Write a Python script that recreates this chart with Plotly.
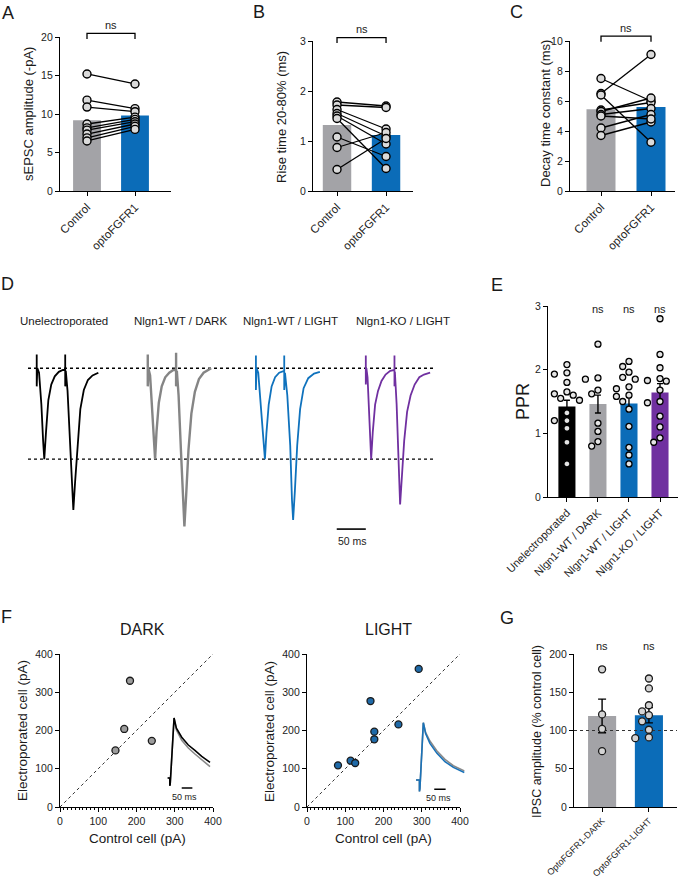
import plotly.graph_objects as go

W, H = 678, 890
FONT = "Liberation Sans, Arial, sans-serif"
GREY = "#a3a3a7"
BLUE = "#0b6cb8"
PURPLE = "#7030a0"

# ---- A-C: paired sEPSC measurements (Control -> optoFGFR1)
groups_ac = ["Control", "optoFGFR1"]
amp_ctrl = [15.2, 11.8, 10.9, 8.7, 8.2, 7.9, 7.4, 6.9, 6.5]
amp_opto = [13.9, 10.7, 10.3, 9.6, 9.3, 9.0, 8.7, 8.4, 8.0]
amp_mean = [9.2, 9.8]
rise_ctrl = [1.78, 1.72, 1.63, 1.55, 1.50, 1.45, 1.08, 0.87, 0.43]
rise_opto = [1.70, 1.67, 1.24, 1.10, 0.94, 0.45, 0.69, 1.17, 1.05]
rise_mean = [1.32, 1.12]
decay_ctrl = [7.5, 6.5, 6.4, 5.4, 5.3, 5.1, 4.2, 3.7, 5.0]
decay_opto = [6.0, 9.1, 3.25, 5.9, 6.2, 5.5, 5.1, 4.6, 4.8]
decay_mean = [5.45, 5.6]

# ---- D: example paired-pulse traces (ms from first stimulus, normalised current)
d_labels = ["Unelectroporated", "Nlgn1-WT / DARK", "Nlgn1-WT / LIGHT", "Nlgn1-KO / LIGHT"]
t_unelec = [0, 0, 0, 1, 4, 8, 11, 13, 16, 20, 25, 31, 38, 45, 49, 49, 49, 50, 53, 57, 61, 63, 66, 70, 75, 81, 88, 96, 106]
i_unelec = [0, 0.15, -0.2, 0, -0.05, -0.4, -0.8, -1.0, -0.7, -0.35, -0.18, -0.09, -0.04, -0.02, -0.02, 0.15, -0.2,
            -0.03, -0.25, -0.75, -1.35, -1.56, -1.25, -0.85, -0.45, -0.24, -0.13, -0.08, -0.05]
t_wt_dark = [0, 0, 0, 1, 4, 8, 11, 12.6, 15, 19, 24, 30, 37, 44, 48.7, 48.7, 48.7, 50, 53, 57, 61, 63, 66, 70, 75, 81, 88, 96, 109]
i_wt_dark = [0, 0.15, -0.2, 0, -0.08, -0.5, -0.88, -1.0, -0.7, -0.38, -0.2, -0.1, -0.05, -0.02, -0.02, 0.17, -0.2,
             -0.03, -0.3, -0.9, -1.55, -1.74, -1.4, -0.9, -0.5, -0.26, -0.12, -0.05, 0.0]
t_wt_light = [0, 0, 0, 1, 4, 9, 13, 15.5, 18, 22, 27, 33, 40, 46, 48.7, 48.7, 48.7, 50, 54, 59, 62, 64, 67, 71, 76, 82, 90, 100, 110]
i_wt_light = [0, 0.14, -0.24, 0, -0.05, -0.45, -0.85, -1.0, -0.72, -0.4, -0.2, -0.1, -0.05, -0.03, -0.03, 0.14, -0.24,
              -0.05, -0.3, -0.85, -1.45, -1.67, -1.35, -0.85, -0.45, -0.22, -0.11, -0.06, -0.04]
t_ko_light = [0, 0, 0, 1, 3, 6, 9.2, 12, 16, 21, 27, 34, 42, 49.3, 49.3, 49.3, 50, 53, 56, 59, 62, 66, 71, 77, 84, 92, 100, 110.6]
i_ko_light = [0, 0.14, -0.18, 0, -0.1, -0.5, -1.0, -0.7, -0.4, -0.25, -0.14, -0.07, -0.03, -0.02, 0.14, -0.2,
              -0.04, -0.4, -1.0, -1.5, -1.2, -0.8, -0.48, -0.3, -0.18, -0.1, -0.07, -0.05]

# ---- E: paired-pulse ratio
ppr_groups = ["Unelectroporated", "Nlgn1-WT / DARK", "Nlgn1-WT / LIGHT", "Nlgn1-KO / LIGHT"]
ppr_unelec = [2.08, 1.95, 1.93, 1.80, 1.65, 1.62, 1.60, 1.55, 1.52, 1.32, 1.20, 1.20, 1.08, 0.86, 0.52]
ppr_wt_dark = [2.40, 1.87, 1.85, 1.68, 1.62, 1.16, 1.03, 0.87, 0.80]
ppr_wt_light = [2.13, 2.05, 1.96, 1.88, 1.85, 1.73, 1.70, 1.60, 1.58, 1.50, 1.38, 1.11, 0.78, 0.66, 0.52]
ppr_ko_light = [2.80, 2.24, 2.03, 1.86, 1.83, 1.82, 1.68, 1.50, 1.48, 1.27, 1.10, 0.93, 0.86]
ppr_mean = [1.42, 1.46, 1.47, 1.64]
ppr_sem = [0.10, 0.14, 0.10, 0.14]

# ---- F: IPSC amplitudes, control vs electroporated cell (pA)
dark_ctrl = [145, 168, 183, 240]
dark_elec = [148, 204, 330, 173]
light_ctrl = [81, 114, 126, 166, 176, 176, 239, 292]
light_elec = [109, 121, 115, 277, 197, 177, 216, 361]
# inset example IPSCs (ms, normalised)
t_inset_dark = [0, 10, 10, 12, 30, 41, 66, 97, 128, 160, 199]
i_dark_ctrl = [0, 0, -0.13, -0.1, 1.0, 0.83, 0.68, 0.55, 0.46, 0.36, 0.26]
i_dark_elec = [0, 0, -0.13, -0.1, 1.0, 0.80, 0.63, 0.50, 0.40, 0.30, 0.19]
t_inset_light = [0, 15, 15, 17, 32, 42, 61, 91, 127, 164, 212]
i_light_ctrl = [0, 0, -0.2, -0.15, 1.0, 0.83, 0.68, 0.51, 0.36, 0.25, 0.16]
i_light_elec = [0, 0, -0.2, -0.15, 1.0, 0.81, 0.64, 0.47, 0.32, 0.22, 0.13]

# ---- G: IPSC amplitude (% control cell)
g_groups = ["OptoFGFR1-DARK", "OptoFGFR1-LIGHT"]
g_dark = [180, 121, 102, 73]
g_light = [168, 155, 133, 125, 120, 112, 101, 91, 90]
g_mean = [119, 120]
g_sem = [22, 10]

# subplot boxes in pixels: x span, y span (top, bottom), data ranges
P = {
    "A": dict(n=1, xpx=(60, 171), ypx=(37, 191), xr=(-0.5625, 1.75), yr=(0, 20)),
    "B": dict(n=2, xpx=(313, 413), ypx=(41, 191), xr=(-0.49, 1.55), yr=(0, 3)),
    "C": dict(n=3, xpx=(570, 675), ypx=(41, 191), xr=(-0.62, 1.48), yr=(0, 10)),
    "D": dict(n=4, xpx=(28, 435), ypx=(340, 540), xr=(-15, 685), yr=(-1.89, 0.31)),
    "E": dict(n=5, xpx=(548, 678), ypx=(306, 497), xr=(-0.61, 3.58), yr=(0, 3)),
    "FD": dict(n=6, xpx=(60, 213), ypx=(654, 807), xr=(0, 400), yr=(0, 400)),
    "FL": dict(n=7, xpx=(307, 460), ypx=(654, 807), xr=(0, 400), yr=(0, 400)),
    "G": dict(n=8, xpx=(574, 677), ypx=(654, 807), xr=(-0.6, 1.6), yr=(0, 200)),
    "ID": dict(n=9, xpx=(166.6, 214.5), ypx=(712, 796), xr=(-5, 220), yr=(-0.3, 1.1)),
    "IL": dict(n=10, xpx=(414.9, 468.4), ypx=(717, 797.2), xr=(-5, 230), yr=(-0.3, 1.1)),
}


def sfx(name):
    n = P[name]["n"]
    return "" if n == 1 else str(n)


def to_paper(name, x, y):
    p = P[name]
    (x0, x1), (yt, yb), (a0, a1), (b0, b1) = p["xpx"], p["ypx"], p["xr"], p["yr"]
    px = x0 + (x - a0) / (a1 - a0) * (x1 - x0)
    py = yb - (y - b0) / (b1 - b0) * (yb - yt)
    return px / W, 1 - py / H


fig = go.Figure()


def add(name, tr):
    s = sfx(name)
    tr.update(xaxis="x" + s, yaxis="y" + s)
    fig.add_trace(tr)


def swarm(vals, ky, kx, d=6.6):
    placed, offs = [], []
    for v in vals:
        y = v * ky
        for k in [0, -1, 1, -2, 2, -3, 3]:
            cx = k * d * 0.95
            if all((cx - a) ** 2 + (y - b) ** 2 >= d * d for a, b in placed):
                break
        placed.append((cx, y))
        offs.append(cx / kx)
    return offs


# A-C paired plots
for name, ctrl, opto, means in [("A", amp_ctrl, amp_opto, amp_mean),
                                 ("B", rise_ctrl, rise_opto, rise_mean),
                                 ("C", decay_ctrl, decay_opto, decay_mean)]:
    add(name, go.Bar(x=[0, 1], y=means, width=0.58, marker=dict(color=[GREY, BLUE], line_width=0)))
    xs, ys = [], []
    for c, o in zip(ctrl, opto):
        xs += [0, 1, None]
        ys += [c, o, None]
    add(name, go.Scatter(x=xs, y=ys, mode="lines+markers", line=dict(color="black", width=1.3),
                         marker=dict(size=8, color="#dadada", line=dict(color="black", width=1.4))))

# D traces
d_offsets = [0, 191, 377, 566]
d_colors = ["black", "#858585", "#0f72bd", PURPLE]
d_widths = [1.8, 2.4, 1.8, 1.8]
for lvl in [0, -1]:
    add("D", go.Scatter(x=list(P["D"]["xr"]), y=[lvl, lvl], mode="lines",
                        line=dict(color="black", width=1.4, dash="dot")))
for t, i, off, col, lw in zip([t_unelec, t_wt_dark, t_wt_light, t_ko_light],
                              [i_unelec, i_wt_dark, i_wt_light, i_ko_light],
                              d_offsets, d_colors, d_widths):
    add("D", go.Scatter(x=[v + off for v in t], y=i, mode="lines", line=dict(color=col, width=lw)))
add("D", go.Scatter(x=[516, 566], y=[-1.77, -1.77], mode="lines", line=dict(color="black", width=1.6)))

# E bars + points
add("E", go.Bar(x=[0, 1, 2, 3], y=ppr_mean, width=0.55,
                marker=dict(color=["black", GREY, BLUE, PURPLE], line_width=0),
                error_y=dict(type="data", array=ppr_sem, color="black", thickness=1.4, width=3)))
for k, vals in enumerate([ppr_unelec, ppr_wt_dark, ppr_wt_light, ppr_ko_light]):
    offs = swarm(vals, 191 / 3, 31, d=6.6)
    add("E", go.Scatter(x=[k + o for o in offs], y=vals, mode="markers",
                        marker=dict(size=6, color="#e4e4e4", line=dict(color="black", width=1.3))))

# F scatter plots with insets
for name, cx, cy, fill in [("FD", dark_ctrl, dark_elec, "#9c9c9c"), ("FL", light_ctrl, light_elec, "#1f6aa8")]:
    add(name, go.Scatter(x=[0, 400], y=[0, 400], mode="lines", line=dict(color="#333", width=1, dash="dot")))
    add(name, go.Scatter(x=cx, y=cy, mode="markers",
                         marker=dict(size=7, color=fill, line=dict(color="#1a1a1a", width=1.3))))

add("ID", go.Scatter(x=t_inset_dark, y=i_dark_elec, mode="lines", line=dict(color="#8a8a8a", width=1.6)))
add("ID", go.Scatter(x=t_inset_dark, y=i_dark_ctrl, mode="lines", line=dict(color="black", width=1.6)))
add("ID", go.Scatter(x=[66, 116], y=[-0.167, -0.167], mode="lines", line=dict(color="black", width=1.5)))
add("IL", go.Scatter(x=t_inset_light, y=i_light_ctrl, mode="lines", line=dict(color="#8a8a8a", width=1.6)))
add("IL", go.Scatter(x=t_inset_light, y=i_light_elec, mode="lines", line=dict(color="#1a72b8", width=1.6)))
add("IL", go.Scatter(x=[80, 130], y=[-0.16, -0.16], mode="lines", line=dict(color="black", width=1.5)))

# G bars + points
add("G", go.Bar(x=[0, 1], y=g_mean, width=0.6, marker=dict(color=[GREY, BLUE], line_width=0),
                error_y=dict(type="data", array=g_sem, color="black", thickness=1.4, width=4)))
add("G", go.Scatter(x=list(P["G"]["xr"]), y=[100, 100], mode="lines",
                    line=dict(color="#333", width=1.2, dash="dot")))
for k, vals in enumerate([g_dark, g_light]):
    offs = swarm(vals, 153 / 200, 47, d=7.2)
    add("G", go.Scatter(x=[k + o for o in offs], y=vals, mode="markers",
                        marker=dict(size=7, color="#d4d4d4", line=dict(color="#1a1a1a", width=1.3))))

# axes
AX = dict(showline=True, linecolor="black", linewidth=1.3, ticks="outside", ticklen=4, tickwidth=1.3,
          tickcolor="black", showgrid=False, zeroline=False, tickfont=dict(size=10.5, color="#222"),
          automargin=False)
layout = dict(width=W, height=H, margin=dict(l=0, r=0, t=0, b=0, autoexpand=False), paper_bgcolor="white",
              plot_bgcolor="rgba(0,0,0,0)", showlegend=False, font=dict(family=FONT, color="#222"))
for name, p in P.items():
    s = sfx(name)
    xa = dict(AX, domain=[p["xpx"][0] / W, p["xpx"][1] / W], range=list(p["xr"]), anchor="y" + s)
    ya = dict(AX, domain=[1 - p["ypx"][1] / H, 1 - p["ypx"][0] / H], range=list(p["yr"]), anchor="x" + s)
    if name in ("D", "ID", "IL"):
        xa["visible"] = False
        ya["visible"] = False
    layout["xaxis" + s] = xa
    layout["yaxis" + s] = ya

for name, ticks in [("A", [0, 5, 10, 15, 20]), ("B", [0, 1, 2, 3]), ("C", [0, 2, 4, 6, 8, 10])]:
    s = sfx(name)
    layout["yaxis" + s]["tickvals"] = ticks
    layout["xaxis" + s].update(tickvals=[0, 1], ticktext=groups_ac, tickangle=-45,
                               tickfont=dict(size=11.5, color="#222"))
layout["yaxis5"]["tickvals"] = [0, 1, 2, 3]
layout["xaxis5"].update(tickvals=[0, 1, 2, 3], ticktext=ppr_groups, tickangle=-45,
                        tickfont=dict(size=11, color="#222"))
for s in ("6", "7"):
    layout["xaxis" + s].update(tickvals=[0, 100, 200, 300, 400],
                               minor=dict(ticks="outside", ticklen=2, dtick=10, tickcolor="black", tickwidth=1))
    layout["yaxis" + s]["tickvals"] = [0, 100, 200, 300, 400]
layout["yaxis8"]["tickvals"] = [0, 50, 100, 150, 200]
layout["xaxis8"].update(tickvals=[0, 1], ticktext=g_groups, tickangle=-45, tickfont=dict(size=9, color="#222"))

# text
ann = []


def note(xp, yp, text, size=11, angle=0):
    ann.append(dict(x=xp, y=yp, xref="paper", yref="paper", text=text, showarrow=False,
                    xanchor="center", yanchor="middle", textangle=angle,
                    font=dict(size=size, color="#1a1a1a", family=FONT)))


def txt(x, y, text, size=11, angle=0):
    note(x / W, 1 - y / H, text, size, angle)


for letter, x, y in [("A", 8, 13), ("B", 259, 12), ("C", 516, 12), ("D", 7, 284),
                     ("E", 497, 285), ("F", 6, 617), ("G", 507, 618)]:
    txt(x, y, letter, 18)
txt(28, 114, "sEPSC amplitude (-pA)", 13, -90)
txt(282, 117, "Rise time 20-80% (ms)", 13, -90)
txt(545, 114, "Decay time constant (ms)", 13, -90)
txt(523, 402, "PPR", 18, -90)
txt(22, 731, "Electroporated cell (pA)", 13.5, -90)
txt(137, 838, "Control cell (pA)", 13.5)
txt(269, 732, "Electroporated cell (pA)", 13.5, -90)
txt(383, 838, "Control cell (pA)", 13.5)
txt(537, 732, "IPSC amplitude (% control cell)", 12.5, -90)
txt(142, 629, "DARK", 16)
txt(388, 629, "LIGHT", 16)
for lab, x in zip(d_labels, [64, 180, 290, 403]):
    txt(x, 321, lab, 11.5)
txt(352, 541, "50 ms", 10.5)
txt(184, 797, "50 ms", 9)
txt(438, 798, "50 ms", 9)

# significance marks
shapes = []
for name, ytop, ybot, yns in [("A", 20.48, 19.74, 21.56), ("B", 3.066, 2.96, 3.24), ("C", 10.33, 9.95, 10.87)]:
    x0, y0 = to_paper(name, 0, ybot)
    x1, y1 = to_paper(name, 1, ytop)
    shapes.append(dict(type="path", xref="paper", yref="paper",
                       path=f"M {x0},{y0} L {x0},{y1} L {x1},{y1} L {x1},{y0}",
                       line=dict(color="black", width=1.3)))
    note(*to_paper(name, 0.5, yns), "ns", 11)
for k in [1, 2, 3]:
    note(*to_paper("E", k, 2.96), "ns", 11)
for k in [0, 1]:
    note(*to_paper("G", k, 210), "ns", 11)

layout["annotations"] = ann
layout["shapes"] = shapes
fig.update_layout(layout)
fig.write_html("out.html", config={"displayModeBar": False},
               post_script="document.body.style.margin='0';")
